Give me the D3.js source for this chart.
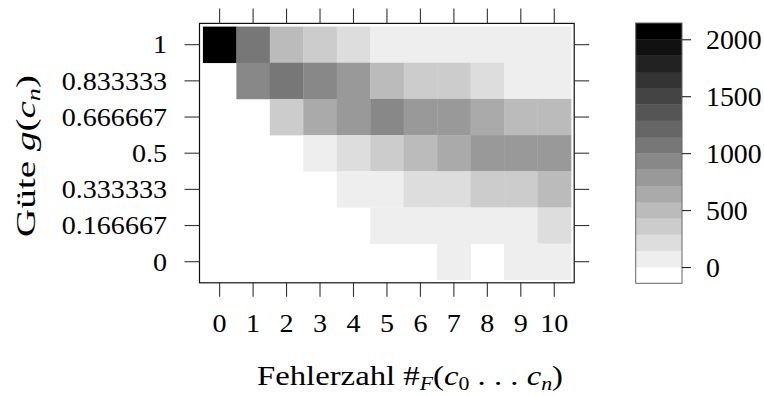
<!DOCTYPE html>
<html>
<head>
<meta charset="utf-8">
<script src="https://cdn.jsdelivr.net/npm/d3@7"></script>
<style>
  body { margin: 0; background: #fff; }
  text { font-family: "Liberation Serif", serif; fill: #000; }
</style>
</head>
<body>
<svg width="764" height="396"></svg>
<script>
// data
const xValues = [0, 1, 2, 3, 4, 5, 6, 7, 8, 9, 10];
const xLabels = ['0', '1', '2', '3', '4', '5', '6', '7', '8', '9', '10'];
const yValues = [1, 0.833333, 0.666667, 0.5, 0.333333, 0.166667, 0];
const yLabels = ['1', '0.833333', '0.666667', '0.5', '0.333333', '0.166667', '0'];
// counts per cell, rows follow yValues, columns follow xValues, null = empty
const counts = [
  [2100, 1070, 500, 360, 210, 70, 70, 70, 70, 70, 70],
  [null, 930, 1070, 930, 790, 500, 360, 360, 210, 70, 70],
  [null, null, 360, 640, 790, 930, 790, 790, 640, 500, 500],
  [null, null, null, 70, 210, 360, 500, 640, 790, 790, 790],
  [null, null, null, null, 70, 70, 210, 210, 360, 360, 500],
  [null, null, null, null, null, 70, 70, 70, 70, 70, 210],
  [null, null, null, null, null, null, null, 70, null, 70, 70]
];
const cbTicks = [0, 500, 1000, 1500, 2000];
const cbMin = -2000 / 14, cbMax = 2000 + 2000 / 14;

const svg = d3.select('svg');
const stretchX = 1.08;

const xScale = d3.scaleLinear().domain([-0.5, 10.5]).range([202.9, 571]);
const yScale = d3.scaleLinear().domain([-1 / 12, 13 / 12]).range([279.8, 26.6]);

const grays = d3.range(16).map(i => d3.rgb(255 - 17 * i, 255 - 17 * i, 255 - 17 * i).formatHex());
const color = d3.scaleQuantize().domain([cbMin, cbMax]).range(grays);

const frame = {left: 199.5, right: 574.2, top: 23.4, bottom: 282.8};

// squeeze or stretch a text horizontally so it spans the given width
const fitWidth = (sel, tx, ty, rot, target) => {
  const w = sel.node().getBBox().width;
  sel.attr('transform', `translate(${tx},${ty}) rotate(${rot}) scale(${target / w},1)`);
};

// cells
const cells = [];
counts.forEach((row, r) => row.forEach((v, c) => {
  if (v != null) cells.push({x: xValues[c], y: yValues[r], v});
}));
const dy = (yScale(0) - yScale(1)) / 6;
svg.append('g').selectAll('rect').data(cells).enter().append('rect')
  .attr('x', d => xScale(d.x - 0.5))
  .attr('y', d => yScale(d.y) - dy / 2)
  .attr('width', d => xScale(d.x + 0.5) - xScale(d.x - 0.5) + 0.3)
  .attr('height', dy + 0.3)
  .attr('fill', d => color(d.v));

// frame
svg.append('rect')
  .attr('x', frame.left).attr('y', frame.top)
  .attr('width', frame.right - frame.left).attr('height', frame.bottom - frame.top)
  .attr('fill', 'none').attr('stroke', '#111').attr('stroke-width', 1.2);

// ticks all around (outside)
const tickG = svg.append('g').attr('stroke', '#333').attr('stroke-width', 1.1);
xValues.forEach(v => {
  const px = xScale(v);
  tickG.append('line').attr('x1', px).attr('x2', px).attr('y1', frame.top - 15).attr('y2', frame.top);
  tickG.append('line').attr('x1', px).attr('x2', px).attr('y1', frame.bottom).attr('y2', frame.bottom + 14);
});
yValues.forEach(v => {
  const py = yScale(v);
  tickG.append('line').attr('x1', frame.left - 15).attr('x2', frame.left).attr('y1', py).attr('y2', py);
  tickG.append('line').attr('x1', frame.right).attr('x2', frame.right + 15).attr('y1', py).attr('y2', py);
});

// tick labels
svg.append('g').selectAll('text').data(xValues).enter().append('text')
  .attr('transform', d => `translate(${xScale(d)},331.5) scale(${stretchX},1)`)
  .attr('text-anchor', 'middle')
  .attr('font-size', 26)
  .text((d, i) => xLabels[i]);

svg.append('g').selectAll('text').data(yValues).enter().append('text')
  .attr('transform', d => `translate(167,${yScale(d) + 8.8}) scale(${stretchX},1)`)
  .attr('text-anchor', 'end')
  .attr('font-size', 26)
  .text((d, i) => yLabels[i]);

// axis titles
const xTitle = svg.append('text')
  .attr('text-anchor', 'middle')
  .attr('font-size', 27);
xTitle.append('tspan').text('Fehlerzahl #');
xTitle.append('tspan').attr('font-style', 'italic').attr('font-size', 18).attr('dy', 5).text('F');
xTitle.append('tspan').attr('dy', -5).text('(');
xTitle.append('tspan').attr('font-style', 'italic').text('c');
xTitle.append('tspan').attr('font-size', 18).attr('dy', 5).text('0');
xTitle.append('tspan').attr('dy', -5).text(' . . . ');
xTitle.append('tspan').attr('font-style', 'italic').text('c');
xTitle.append('tspan').attr('font-style', 'italic').attr('font-size', 18).attr('dy', 5).text('n');
xTitle.append('tspan').attr('dy', -5).text(')');
fitWidth(xTitle, 410, 385, 0, 306);

const yTitle = svg.append('text')
  .attr('text-anchor', 'middle')
  .attr('font-size', 27);
yTitle.append('tspan').text('Güte ');
yTitle.append('tspan').attr('font-style', 'italic').text('g');
yTitle.append('tspan').text('(');
yTitle.append('tspan').attr('font-style', 'italic').text('c');
yTitle.append('tspan').attr('font-style', 'italic').attr('font-size', 18).attr('dy', 5).text('n');
yTitle.append('tspan').attr('dy', -5).text(')');
fitWidth(yTitle, 35, 156, -90, 162);

// colorbar
const cb = {left: 635.7, right: 682, top: 23, bottom: 283.3};
const cbScale = d3.scaleLinear().domain([cbMin, cbMax]).range([cb.bottom, cb.top]);
const step = (cbMax - cbMin) / grays.length;
svg.append('g').selectAll('rect').data(grays).enter().append('rect')
  .attr('x', cb.left)
  .attr('y', (d, i) => cbScale(cbMin + (i + 1) * step))
  .attr('width', cb.right - cb.left)
  .attr('height', (d, i) => cbScale(cbMin + i * step) - cbScale(cbMin + (i + 1) * step) + 0.3)
  .attr('fill', d => d);
svg.append('rect')
  .attr('x', cb.left).attr('y', cb.top)
  .attr('width', cb.right - cb.left).attr('height', cb.bottom - cb.top)
  .attr('fill', 'none').attr('stroke', '#666').attr('stroke-width', 1);

const cbAxis = d3.axisRight(cbScale).tickValues(cbTicks).tickSize(9).tickFormat('');
const cbAxisG = svg.append('g').attr('transform', `translate(${cb.right},0)`).call(cbAxis);
cbAxisG.select('.domain').remove();
cbAxisG.selectAll('line').attr('stroke', '#222').attr('stroke-width', 1.1);

svg.append('g').selectAll('text').data(cbTicks).enter().append('text')
  .attr('transform', d => `translate(706,${cbScale(d) + 9.5}) scale(1.03,1)`)
  .attr('font-size', 27)
  .text(d => d);
</script>
</body>
</html>
